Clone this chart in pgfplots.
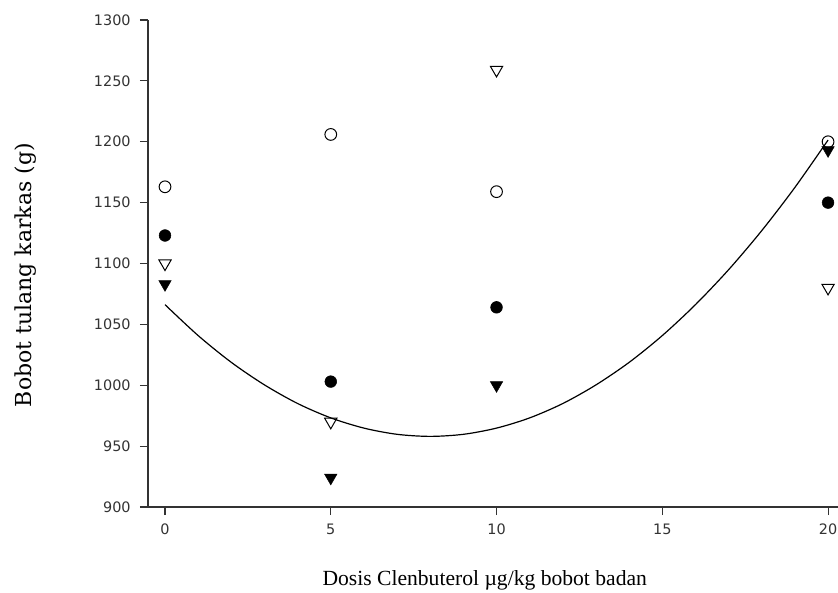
\documentclass[border=0pt]{standalone}
\usepackage{fontspec}
\setmainfont{Liberation Serif}
\newfontfamily\tickfont{DejaVu Sans}
\newfontfamily\ylabfont{DejaVu Serif}
\usepackage{pgfplots}
\pgfplotsset{compat=1.18}

\begin{document}
\begin{tikzpicture}
% picture frame: 838x592 px at 0.75pt per px
\useasboundingbox (-111pt,-63.75pt) rectangle (517.5pt,380.25pt);
\begin{axis}[
  at={(0,0)}, anchor=south west,
  scale only axis,
  width=517.5pt, height=365.25pt,
  xmin=-0.513, xmax=20.3,
  ymin=900, ymax=1300,
  axis x line=bottom, axis y line=left,
  axis line style={black!80, line width=0.8pt, -},
  xtick={0,5,10,15,20},
  ytick={900,950,...,1300},
  tick align=outside,
  major tick length=6pt,
  tick style={black!80, line width=0.8pt},
  /pgf/number format/assume math mode=true,
  /pgf/number format/set thousands separator={},
  tick label style={font=\tickfont\fontsize{10.8}{13}\selectfont, text=black!80},
  yticklabel style={xshift=-3.5pt},
  xticklabel style={yshift=-3pt},
  xlabel={Dosis Clenbuterol µg/kg bobot badan},
  ylabel={Bobot tulang karkas (g)},
  xlabel style={at={(axis description cs:0.488,-0.15)}, anchor=center, font=\fontsize{16.2}{19}\selectfont},
  ylabel style={at={(axis description cs:-0.178,0.476)}, anchor=center, font=\ylabfont\fontsize{16.5}{19}\selectfont},
  clip=false,
]

% fitted curve
\addplot[black, line width=0.9pt, smooth, no marks] coordinates {
  (0,1066.2) (1,1040.8) (2,1018.8) (3,1000.3) (4,985.0) (5,973.2)
  (6,964.8) (7,959.7) (8,958) (9,959.7) (10,964.8) (11,973.2)
  (12,985.0) (13,1000.3) (14,1018.8) (15,1040.8) (16,1066.2)
  (17,1094.9) (18,1127) (19,1162.5) (20,1201.4)
};

% open circles
\addplot[only marks, mark=o, mark size=4.4pt, line width=0.75pt, black] coordinates {
  (0,1163) (5,1206) (10,1159) (20,1200)
};

% filled circles
\addplot[only marks, mark=*, mark size=4.4pt, black] coordinates {
  (0,1123) (5,1003) (10,1064) (20,1150)
};

% open down triangles
\addplot[only marks, mark=triangle, mark size=5.3pt, line width=0.75pt, black, mark options={rotate=180}] coordinates {
  (0,1100) (5,970) (10,1259) (20,1080)
};

% filled down triangles
\addplot[only marks, mark=triangle*, mark size=5.3pt, black, mark options={rotate=180}] coordinates {
  (0,1083) (5,924) (10,1000) (20,1193)
};

\end{axis}
\end{tikzpicture}
\end{document}
